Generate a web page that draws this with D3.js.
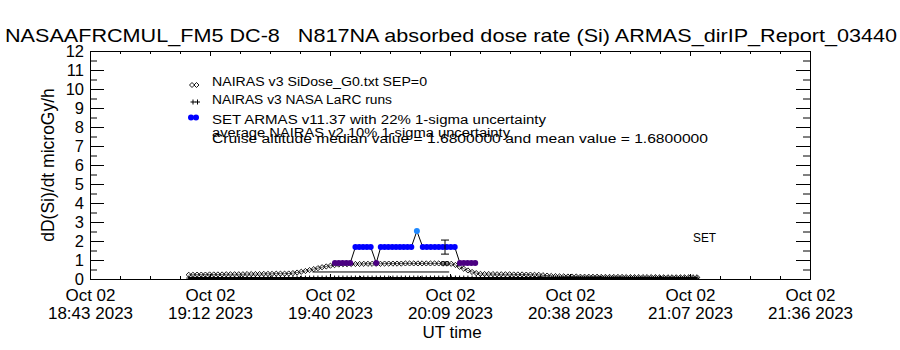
<!DOCTYPE html>
<html><head><meta charset="utf-8">
<script src="https://cdn.jsdelivr.net/npm/d3@7"></script>
<style>
body{margin:0;background:#fff}
svg{display:block}
text{font-family:"Liberation Sans",Arial,Helvetica,sans-serif;fill:#000}
</style>
</head><body><svg id="c" width="900" height="350"></svg>
<script>
// ---------- DATA ----------
const title = "NASAAFRCMUL_FM5 DC-8   N817NA absorbed dose rate (Si) ARMAS_dirIP_Report_03440";
const yTitle = "dD(Si)/dt microGy/h";
const xTitle = "UT time";
const xDomain = ["18:43:18", "21:36:06"];
const xTickDates = ["Oct 02","Oct 02","Oct 02","Oct 02","Oct 02","Oct 02","Oct 02"];
const xTickTimes = ["18:43 2023","19:12 2023","19:40 2023","20:09 2023","20:38 2023","21:07 2023","21:36 2023"];
const yTicks = [0,1,2,3,4,5,6,7,8,9,10,11,12];

// NAIRAS v3 SiDose_G0 (one value per minute starting 19:07:00)
const gridStart = "19:07:00";
const nairasG0 = [
 0.22,0.22,0.23,0.23,0.23,0.24,0.24,0.24,0.24,0.25,0.25,0.25,0.25,0.25,0.26,0.26,0.26,0.26,0.27,0.27,0.27,0.28,0.28,0.28,0.29,
 0.31,0.34,0.38,0.42,0.47,0.52,0.57,0.62,0.66,0.70,0.73,0.76,
 0.78,0.78,0.79,0.79,0.79,0.80,0.80,0.80,0.80,0.80,0.81,0.81,0.81,0.81,0.81,0.82,0.82,0.82,0.82,0.82,0.82,0.82,0.82,0.82,0.81,0.81,0.80,
 0.74,0.64,0.54,0.45,0.37,0.31,0.27,
 0.26,0.26,0.26,0.25,0.25,0.25,0.25,0.24,0.24,0.24,0.23,0.23,0.22,0.22,
 0.20,0.18,0.16,0.15,0.14,0.14,0.13,0.13,0.13,0.12,0.12,0.12,0.12,0.12,0.11,0.11,0.11,0.11,0.11,0.11,
 0.10,0.10,0.10,0.10,0.10,0.10,0.10,0.10,0.09,0.09,0.09,0.09,0.09,0.09,0.09,0.09,0.09,0.09
];
// NAIRAS v3 NASA LaRC runs (same minute grid)
const larc = [
 0.05,0.05,0.05,0.05,0.05,0.05,0.05,0.05,0.05,0.05,0.05,0.05,0.05,0.05,0.05,0.05,0.05,0.05,0.05,0.05,0.05,0.05,0.05,0.05,0.05,
 0.05,0.05,0.05,0.05,0.05,0.05,0.05,0.05,0.05,0.05,0.05,0.05,
 0.05,0.05,0.05,0.05,0.05,0.05,0.05,0.05,0.05,0.05,0.05,0.05,0.05,0.05,0.05,0.05,0.05,0.05,0.05,0.05,0.05,0.05,0.05,0.05,0.05,0.05,0.05,
 0.05,0.05,0.05,0.05,0.05,0.05,0.05,
 0.05,0.05,0.05,0.05,0.05,0.05,0.05,0.05,0.05,0.05,0.05,0.05,0.05,0.05,
 0.05,0.05,0.05,0.05,0.05,0.05,0.05,0.05,0.05,0.05,0.05,0.05,0.05,0.05,0.05,0.05,0.05,0.05,0.05,0.05,
 0.05,0.05,0.05,0.05,0.05,0.05,0.05,0.05,0.05,0.05,0.05,0.05,0.05,0.05,0.05,0.05,0.05,0.05
];
// cruise-level model line
const cruiseTimes = ["19:36:40","20:09:30"];
const cruiseValues = [0.37, 0.37];

// SET ARMAS
const armasTimes = [
 "19:42:05","19:43:00","19:43:55","19:44:50","19:45:45",
 "19:47:00","19:47:55","19:48:50","19:49:45","19:50:40",
 "19:52:00",
 "19:53:05","19:54:00","19:54:55","19:55:50","19:56:45","19:57:40","19:58:35","19:59:30","20:00:25",
 "20:01:45",
 "20:03:10","20:04:07","20:05:05","20:06:03","20:07:00","20:07:58","20:08:55","20:09:53","20:10:50",
 "20:12:05","20:13:00","20:13:55","20:14:50","20:15:45"
];
const armasValues = [
 0.84,0.84,0.84,0.84,0.84,
 1.68,1.68,1.68,1.68,1.68,
 0.84,
 1.68,1.68,1.68,1.68,1.68,1.68,1.68,1.68,1.68,
 2.52,
 1.68,1.68,1.68,1.68,1.68,1.68,1.68,1.68,1.68,
 0.84,0.84,0.84,0.84,0.84
];
const armasClass = [
 "low","low","low","low","low",
 "cruise","cruise","cruise","cruise","cruise",
 "low",
 "cruise","cruise","cruise","cruise","cruise","cruise","cruise","cruise","cruise",
 "peak",
 "cruise","cruise","cruise","cruise","cruise","cruise","cruise","cruise","cruise",
 "low","low","low","low","low"
];
const classColor = {low:"#4b0082", cruise:"#0000ff", peak:"#1e88ff"};

// error bars: time, centre, half-width
const errTimes = ["20:08:30","20:08:30"];
const errCentres = [1.68, 0.82];
const errHalf = [0.37, 0.08];

const legendLabels = [
 "NAIRAS v3 SiDose_G0.txt SEP=0",
 "NAIRAS v3 NASA LaRC runs",
 "SET ARMAS v11.37 with 22% 1-sigma uncertainty",
 "average NAIRAS v2 10% 1-sigma uncertainty",
 "Cruise altitude median value = 1.6800000 and mean value = 1.6800000"
];
const setLabel = "SET";

// ---------- LAYOUT ----------
const L = 90, R = 810, T = 51, B = 279;
const svg = d3.select("#c");
const parseT = d3.utcParse("%H:%M:%S");
const t0 = parseT(xDomain[0]), t1 = parseT(xDomain[1]);
const x = d3.scaleUtc().domain([t0, t1]).range([L, R]);
const y = d3.scaleLinear().domain([0, 12]).range([B, T]);

const majorX = d3.range(7).map(i => new Date(+t0 + i * (t1 - t0) / 6));
const minorX = d3.range(25).map(i => new Date(+t0 + i * (t1 - t0) / 24));
const minorY = d3.range(0, 12).map(v => v + 0.5);

// title
svg.append("text").attr("x", 5).attr("y", 42).attr("font-size", 19)
  .attr("xml:space", "preserve").style("white-space", "pre")
  .attr("textLength", 892).attr("lengthAdjust", "spacingAndGlyphs").text(title);

function styleAxis(g) {
  g.selectAll("path,line").attr("stroke", "#000").attr("stroke-width", 1);
  g.attr("font-family", null).attr("font-size", null);
}

// bottom axis with labels
const gB = svg.append("g").attr("transform", `translate(0,${B})`)
  .call(d3.axisBottom(x).tickValues(majorX).tickSizeInner(-5).tickSizeOuter(0).tickFormat(""));
styleAxis(gB);
gB.selectAll(".tick").each(function(d, i) {
  const g = d3.select(this);
  g.append("text").attr("text-anchor", "middle").attr("font-size", 17).attr("y", 22).text(xTickDates[i]);
  g.append("text").attr("text-anchor", "middle").attr("font-size", 17).attr("y", 40).text(xTickTimes[i]);
});
styleAxis(svg.append("g").attr("transform", `translate(0,${B})`)
  .call(d3.axisBottom(x).tickValues(minorX).tickSizeInner(-3).tickSizeOuter(0).tickFormat("")));
// top axis
styleAxis(svg.append("g").attr("transform", `translate(0,${T})`)
  .call(d3.axisTop(x).tickValues(majorX).tickSizeInner(-5).tickSizeOuter(0).tickFormat("")));
styleAxis(svg.append("g").attr("transform", `translate(0,${T})`)
  .call(d3.axisTop(x).tickValues(minorX).tickSizeInner(-3).tickSizeOuter(0).tickFormat("")));
// left axis
const gL = svg.append("g").attr("transform", `translate(${L},0)`)
  .call(d3.axisLeft(y).tickValues(yTicks).tickSizeInner(-14).tickSizeOuter(0).tickPadding(6).tickFormat(d3.format("d")));
styleAxis(gL);
gL.selectAll(".tick text").attr("font-size", 16.5).attr("fill", "#000");
styleAxis(svg.append("g").attr("transform", `translate(${L},0)`)
  .call(d3.axisLeft(y).tickValues(minorY).tickSizeInner(-7).tickSizeOuter(0).tickFormat("")));
// right axis
styleAxis(svg.append("g").attr("transform", `translate(${R},0)`)
  .call(d3.axisRight(y).tickValues(yTicks).tickSizeInner(-14).tickSizeOuter(0).tickFormat("")));
styleAxis(svg.append("g").attr("transform", `translate(${R},0)`)
  .call(d3.axisRight(y).tickValues(minorY).tickSizeInner(-7).tickSizeOuter(0).tickFormat("")));

// axis titles
svg.append("text").attr("transform", `translate(54,${(T + B) / 2}) rotate(-90)`)
  .attr("text-anchor", "middle").attr("font-size", 17.5).text(yTitle);
svg.append("text").attr("x", 452).attr("y", 338).attr("text-anchor", "middle")
  .attr("font-size", 17).text(xTitle);

// clip
svg.append("clipPath").attr("id", "clip").append("rect")
  .attr("x", L).attr("y", T).attr("width", R - L).attr("height", B - T);
const plot = svg.append("g").attr("clip-path", "url(#clip)");

const g0 = parseT(gridStart);
const gridTimes = nairasG0.map((_, i) => d3.utcMinute.offset(g0, i));

const diamond = (cx, cy, h) => `M${cx},${cy - h}L${cx + h},${cy}L${cx},${cy + h}L${cx - h},${cy}Z`;
const plus = (cx, cy, h) => `M${cx - h},${cy}H${cx + h}M${cx},${cy - h}V${cy + h}`;

// LaRC series
plot.append("path")
  .attr("d", d3.line().x((d, i) => x(gridTimes[i])).y(d => y(d))(larc))
  .attr("fill", "none").attr("stroke", "#000").attr("stroke-width", 2);
plot.append("path")
  .attr("d", larc.map((v, i) => plus(x(gridTimes[i]), y(v), 2.5)).join(""))
  .attr("fill", "none").attr("stroke", "#000").attr("stroke-width", 1);

// cruise model line
plot.append("path")
  .attr("d", d3.line().x((d, i) => x(parseT(cruiseTimes[i]))).y(d => y(d))(cruiseValues))
  .attr("fill", "none").attr("stroke", "#000").attr("stroke-width", 1);

// NAIRAS G0 series
plot.append("path")
  .attr("d", d3.line().x((d, i) => x(gridTimes[i])).y(d => y(d))(nairasG0))
  .attr("fill", "none").attr("stroke", "#000").attr("stroke-width", 0.6);
plot.append("path")
  .attr("d", nairasG0.map((v, i) => diamond(x(gridTimes[i]), y(v), 2.6)).join(""))
  .attr("fill", "none").attr("stroke", "#000").attr("stroke-width", 0.9);

// ARMAS connecting line
const armasPts = armasValues.map((v, i) => ({t: parseT(armasTimes[i]), v, c: armasClass[i]}));
plot.append("path")
  .attr("d", d3.line().x(d => x(d.t)).y(d => y(d.v))(armasPts))
  .attr("fill", "none").attr("stroke", "#000").attr("stroke-width", 1);
plot.selectAll("circle.armas").data(armasPts).join("circle").attr("class", "armas")
  .attr("cx", d => x(d.t)).attr("cy", d => y(d.v)).attr("r", 3)
  .attr("fill", d => classColor[d.c]);

// error bars
errTimes.forEach((tt, i) => {
  const cx = x(parseT(tt));
  const y1 = y(errCentres[i] + errHalf[i]), y2 = y(errCentres[i] - errHalf[i]);
  plot.append("path").attr("d", `M${cx - 4},${y1}H${cx + 4}M${cx},${y1}V${y2}M${cx - 4},${y2}H${cx + 4}`)
    .attr("fill", "none").attr("stroke", "#000").attr("stroke-width", 1);
});

// legend
const legX = 212;
const legBase = [86, 104, 124, 137, 143];
const legLen = [215, 180, 334, 298, 496];
legendLabels.forEach((s, i) => {
  svg.append("text").attr("x", legX).attr("y", legBase[i]).attr("font-size", 12.5)
    .attr("textLength", legLen[i]).attr("lengthAdjust", "spacingAndGlyphs").text(s);
});
svg.append("path").attr("d", diamond(192, 85, 2.5) + diamond(196.5, 85, 2.5))
  .attr("fill", "none").attr("stroke", "#000").attr("stroke-width", 0.9);
svg.append("path").attr("d", plus(193, 102, 2.5) + plus(197.5, 102, 2.5))
  .attr("fill", "none").attr("stroke", "#000").attr("stroke-width", 1);
[191, 196].forEach(cx => svg.append("circle").attr("cx", cx).attr("cy", 117.5).attr("r", 3).attr("fill", "#0000ff"));

svg.append("text").attr("x", 693).attr("y", 242).attr("font-size", 13)
  .attr("textLength", 23).attr("lengthAdjust", "spacingAndGlyphs").text(setLabel);
</script>
</body></html>
